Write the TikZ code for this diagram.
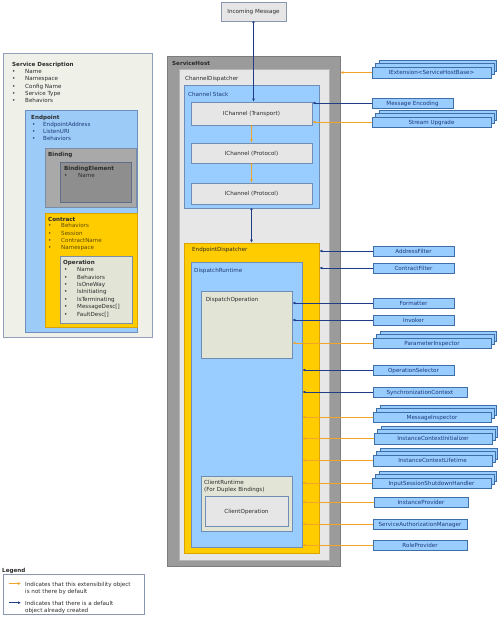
\documentclass[tikz,border=0pt]{standalone}
\usepackage{fontspec}
\setmainfont{DejaVu Sans}
\usetikzlibrary{fit,arrows.meta,calc}
\definecolor{sdfill}{HTML}{EFF1E9}
\definecolor{sddraw}{HTML}{8FA0B8}
\definecolor{epfill}{HTML}{9CCBF8}
\definecolor{epdraw}{HTML}{6C8FBF}
\definecolor{bdfill}{HTML}{A9A9A9}
\definecolor{bddraw}{HTML}{7A8CA6}
\definecolor{befill}{HTML}{8E8E8E}
\definecolor{bedraw}{HTML}{5E6E88}
\definecolor{goldfill}{HTML}{FFCC00}
\definecolor{golddraw}{HTML}{D9A400}
\definecolor{opfill}{HTML}{E2E4D6}
\definecolor{opdraw}{HTML}{7D8DA5}
\definecolor{shfill}{HTML}{9B9B9B}
\definecolor{shdraw}{HTML}{7C7C7C}
\definecolor{cdfill}{HTML}{E7E7E7}
\definecolor{cddraw}{HTML}{B5B5B5}
\definecolor{icfill}{HTML}{E6E6E6}
\definecolor{icdraw}{HTML}{6F8DB5}
\definecolor{rbfill}{HTML}{99CCFF}
\definecolor{rbdraw}{HTML}{3F6FA8}
\definecolor{navy}{HTML}{1F3C88}
\definecolor{orng}{HTML}{F0A428}
\definecolor{txt}{HTML}{2B2B2B}
\definecolor{eptxt}{HTML}{1C3A78}
\definecolor{cttxt}{HTML}{5C4A00}
\definecolor{lgdraw}{HTML}{8797B0}
% centred text label inside a named box
\newcommand{\ctext}[3][txt]{%
  \node[anchor=base, inner sep=0pt, text=#1] (#2t) at ($(#2.center)+(0,2)$) {#3};}
\newcommand{\stk}[6]{%
  \node[rbox, fit={(#2+7,#3-6.5) (#4+5.5,#5-6.5)}] (#1b) {};
  \node[rbox, fit={(#2+3.5,#3-3.5) (#4+3,#5-3.5)}] (#1m) {};
  \node[rbox, fit={(#2,#3) (#4,#5)}] (#1) {};
  \ctext[eptxt]{#1}{#6}}
\newcommand{\sgl}[6]{%
  \node[rbox, fit={(#2,#3) (#4,#5)}] (#1) {};
  \ctext[eptxt]{#1}{#6}}
\newcommand{\blist}[6]{% prefix, bullet x, text x, first baseline, colour, items
  \foreach \t [count=\i from 0] in {#6} {
    \node[lbl, text=#5] (#1b\i) at (#2, #4+\i*7.4) {\textbullet};
    \node[lbl, text=#5] (#1t\i) at (#3, #4+\i*7.4) {\t};
  }}
\begin{document}
\begin{tikzpicture}[x=1pt,y=-1pt,
  font=\fontsize{5.6}{7}\selectfont, text=txt,
  bx/.style 2 args={draw=#1, fill=#2, inner sep=0pt, line width=0.7pt},
  rbox/.style={draw=rbdraw, fill=rbfill, inner sep=0pt, line width=0.7pt},
  lbl/.style={anchor=base west, inner sep=0pt},
  bluearr/.style={draw=navy, line width=0.8pt, -{Latex[length=3pt,width=2.8pt]}},
  orarr/.style={draw=orng, line width=1pt, -{Latex[length=3pt,width=3pt]}},
  dotblue/.style={draw=navy, line width=0.8pt, {Circle[length=2pt]}-{Latex[length=3pt,width=2.8pt]}},
  dotor/.style={draw=orng, line width=1pt, {Circle[length=1.8pt]}-{Latex[length=3pt,width=3pt]}}]
\useasboundingbox[fill=white] (0,0) rectangle (500,619);

% ---------- left: service description ----------
\node[bx={sddraw}{sdfill}, fit={(3,53) (152,337)}] (sd) {};
\node[bx={epdraw}{epfill}, fit={(25,110) (137,332)}] (ep) {};
\node[bx={bddraw}{bdfill}, fit={(45,148) (136,207)}] (bd) {};
\node[bx={bedraw}{befill}, fit={(60,162) (131,202)}] (be) {};
\node[bx={golddraw}{goldfill}, fit={(45,213) (137,327)}] (ct) {};
\node[bx={opdraw}{opfill}, fit={(60,256) (132,323)}] (op) {};

\node[lbl] (sdtitle) at (12,66) {\textbf{Service Description}};
\blist{sd}{12}{25}{73.3}{txt}{Name,Namespace,Config Name,Service Type,Behaviors}
\node[lbl] (eptitle) at (31,119.7) {\textbf{Endpoint}};
\blist{ep}{32}{43}{126}{eptxt}{EndpointAddress,ListenURI,Behaviors}
\node[lbl] (bdtitle) at (48,156.3) {\textbf{Binding}};
\node[lbl] (betitle) at (64,170) {\textbf{BindingElement}};
\blist{be}{64}{78}{177.7}{txt}{Name}
\node[lbl] (cttitle) at (48,221) {\textbf{Contract}};
\blist{ct}{48}{61}{227.7}{cttxt}{Behaviors,Session,ContractName,Namespace}
\node[lbl] (optitle) at (63,264.3) {\textbf{Operation}};
\blist{op}{64}{77}{271.7}{txt}{Name,Behaviors,IsOneWay,IsInitiating,IsTerminating,MessageDesc[],FaultDesc[]}

% ---------- service host ----------
\node[bx={lgdraw}{icfill}, fit={(221,2) (286,21)}] (im) {};
\ctext{im}{Incoming Message}
\node[bx={shdraw}{shfill}, fit={(167,56) (340,566)}] (sh) {};
\node[bx={cddraw}{cdfill}, fit={(179,69) (329,560)}] (cd) {};
\node[bx={icdraw}{rbfill}, fit={(184,85) (319,208)}] (cs) {};
\node[bx={icdraw}{icfill}, fit={(191,102) (312,125)}] (ict) {};
\ctext{ict}{IChannel (Transport)}
\node[bx={icdraw}{icfill}, fit={(191,143) (312,163)}] (icp1) {};
\ctext{icp1}{IChannel (Protocol)}
\node[bx={icdraw}{icfill}, fit={(191,183) (312,204)}] (icp2) {};
\ctext{icp2}{IChannel (Protocol)}
\node[bx={golddraw}{goldfill}, fit={(184,243) (319,553)}] (ed) {};
\node[bx={icdraw}{rbfill}, fit={(191,262) (302,547)}] (dr) {};
\node[bx={icdraw}{opfill}, fit={(201,291) (292,358)}] (dop) {};
\node[bx={icdraw}{opfill}, fit={(201,476) (292,531)}] (cr) {};
\node[bx={icdraw}{icfill}, fit={(205,496) (288,526)}] (co) {};
\ctext{co}{ClientOperation}

\node[lbl] (shtitle) at (172,65.5) {\textbf{ServiceHost}};
\node[lbl] (cdtitle) at (185,80.5) {ChannelDispatcher};
\node[lbl, text=eptxt] (cstitle) at (188,96) {Channel Stack};
\node[lbl] (edtitle) at (192,251) {EndpointDispatcher};
\node[lbl, text=eptxt] (drtitle) at (194,272.7) {DispatchRuntime};
\node[lbl] (doptitle) at (205.7,301) {DispatchOperation};
\node[lbl] (crtitle) at (204,484.3) {ClientRuntime};
\node[lbl] (crsub) at (204,491.3) {(For Duplex Bindings)};

% ---------- extensibility objects ----------
\stk{iext}{372}{67}{491}{78}{IExtension<ServiceHostBase>}
\sgl{menc}{372}{98}{453}{108}{Message Encoding}
\stk{supg}{372}{117}{491}{127}{Stream Upgrade}
\sgl{af}{373}{246}{454}{256}{AddressFilter}
\sgl{cf}{373}{263}{454}{273}{ContractFilter}
\sgl{fm}{373}{298}{454}{308}{Formatter}
\sgl{inv}{373}{315}{454}{325}{Invoker}
\stk{pi}{373}{338}{491}{348}{ParameterInspector}
\sgl{os}{373}{365}{454}{375}{OperationSelector}
\sgl{sc}{373}{387}{467}{397}{SynchronizationContext}
\stk{mi}{373}{412}{491}{422}{MessageInspector}
\stk{ici}{374}{433}{492}{444}{InstanceContextInitializer}
\stk{icl}{373}{455}{492}{466}{InstanceContextLifetime}
\stk{ish}{372}{478}{491}{488}{InputSessionShutdownHandler}
\sgl{ip}{374}{497}{468}{507}{InstanceProvider}
\sgl{sam}{373}{519}{467}{529}{ServiceAuthorizationManager}
\sgl{rp}{373}{540}{467}{550}{RoleProvider}

% ---------- connectors ----------
\draw[dotblue] (im.south) -- (im.south |- ict.north);
\draw[dotor] (ict.south) -- (icp1.north);
\draw[dotor] (icp1.south) -- (icp2.north);
\draw[dotblue] (cs.south) -- (ed.north);

\draw[orarr] (iext.west) -- (iext.west -| sh.east);
\draw[bluearr] (menc.west) -- (menc.west -| ict.east);
\draw[orarr] (supg.west) -- (supg.west -| ict.east);
\draw[bluearr] (af.west) -- (af.west -| ed.east);
\draw[bluearr] (cf.west) -- (cf.west -| ed.east);
\draw[bluearr] (fm.west) -- (fm.west -| dop.east);
\draw[bluearr] (inv.west) -- (inv.west -| dop.east);
\draw[orarr] (pi.west) -- (pi.west -| dop.east);
\draw[bluearr] (os.west) -- (os.west -| dr.east);
\draw[bluearr] (sc.west) -- (sc.west -| dr.east);
\foreach \n in {mi,ici,icl,ish,ip,sam,rp}
  \draw[orarr] (\n.west) -- (\n.west -| dr.east);

% ---------- legend ----------
\node[lbl] (lgtitle) at (2,572) {\textbf{Legend}};
\node[bx={lgdraw}{white}, fit={(3,574) (144,614)}] (lg) {};
\coordinate (lo1) at (9,583.5);
\coordinate (lo2) at (21,583.5);
\coordinate (lb1) at (9,602.7);
\coordinate (lb2) at (21,602.7);
\draw[orarr] (lo1) -- (lo2);
\draw[bluearr] (lb1) -- (lb2);
\node[lbl] (lgt1) at (25,586) {Indicates that this extensibility object};
\node[lbl] (lgt2) at (25,593) {is not there by default};
\node[lbl] (lgt3) at (25,605) {Indicates that there is a default};
\node[lbl] (lgt4) at (25,612) {object already created};
\end{tikzpicture}
\end{document}
